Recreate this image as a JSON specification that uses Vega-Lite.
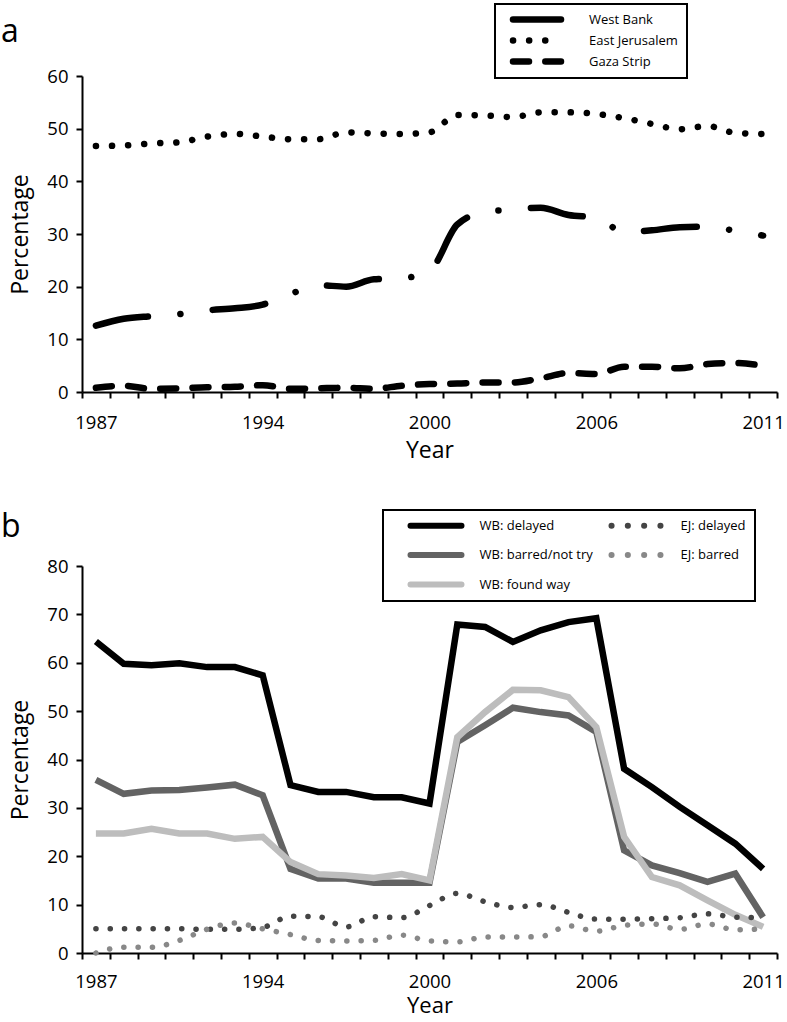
{
  "$schema": "https://vega.github.io/schema/vega-lite/v6.json",
  "padding": {"left": 1, "top": 3, "right": 5, "bottom": 0},
  "background": "white",
  "config": {
    "font": "Open Sans",
    "view": {"stroke": null},
    "axis": {"domainColor": "black", "domainWidth": 2, "tickColor": "black", "tickWidth": 2, "tickSize": 6, "labelFontSize": 18.5, "labelColor": "black", "titleFontSize": 23, "titleFontWeight": "normal", "titleColor": "black", "grid": false},
    "legend": {"labelFontSize": 13, "labelColor": "black", "strokeColor": "black", "strokeWidth": 2, "symbolType": "stroke"},
    "title": {"fontSize": 32, "fontWeight": "normal", "color": "black", "anchor": "start", "frame": "group"}
  },
  "datasets": {
    "a": [
      {"t":0,"region":"West Bank","value":12.6},{"t":1,"region":"West Bank","value":13.9},{"t":2,"region":"West Bank","value":14.4},{"t":3,"region":"West Bank","value":14.8},{"t":4,"region":"West Bank","value":15.5},{"t":5,"region":"West Bank","value":15.9},{"t":6,"region":"West Bank","value":16.6},{"t":7,"region":"West Bank","value":18.6},{"t":8,"region":"West Bank","value":20.3},{"t":9,"region":"West Bank","value":20.0},{"t":10,"region":"West Bank","value":21.4},{"t":11,"region":"West Bank","value":21.6},{"t":12,"region":"West Bank","value":23.0},{"t":13,"region":"West Bank","value":31.8},{"t":14,"region":"West Bank","value":34.2},{"t":15,"region":"West Bank","value":34.6},{"t":16,"region":"West Bank","value":35.0},{"t":17,"region":"West Bank","value":33.6},{"t":18,"region":"West Bank","value":33.1},{"t":19,"region":"West Bank","value":30.4},{"t":20,"region":"West Bank","value":30.7},{"t":21,"region":"West Bank","value":31.3},{"t":22,"region":"West Bank","value":31.4},{"t":23,"region":"West Bank","value":30.6},{"t":24,"region":"West Bank","value":29.7},
      {"t":0,"region":"East Jerusalem","value":46.7},{"t":1,"region":"East Jerusalem","value":46.8},{"t":2,"region":"East Jerusalem","value":47.2},{"t":3,"region":"East Jerusalem","value":47.4},{"t":4,"region":"East Jerusalem","value":48.5},{"t":5,"region":"East Jerusalem","value":49.0},{"t":6,"region":"East Jerusalem","value":48.5},{"t":7,"region":"East Jerusalem","value":48.0},{"t":8,"region":"East Jerusalem","value":48.0},{"t":9,"region":"East Jerusalem","value":49.3},{"t":10,"region":"East Jerusalem","value":49.1},{"t":11,"region":"East Jerusalem","value":49.0},{"t":12,"region":"East Jerusalem","value":49.3},{"t":13,"region":"East Jerusalem","value":52.6},{"t":14,"region":"East Jerusalem","value":52.5},{"t":15,"region":"East Jerusalem","value":52.2},{"t":16,"region":"East Jerusalem","value":53.1},{"t":17,"region":"East Jerusalem","value":53.1},{"t":18,"region":"East Jerusalem","value":52.8},{"t":19,"region":"East Jerusalem","value":52.0},{"t":20,"region":"East Jerusalem","value":50.9},{"t":21,"region":"East Jerusalem","value":49.9},{"t":22,"region":"East Jerusalem","value":50.5},{"t":23,"region":"East Jerusalem","value":49.2},{"t":24,"region":"East Jerusalem","value":49.0},
      {"t":0,"region":"Gaza Strip","value":0.8},{"t":1,"region":"Gaza Strip","value":1.2},{"t":2,"region":"Gaza Strip","value":0.6},{"t":3,"region":"Gaza Strip","value":0.7},{"t":4,"region":"Gaza Strip","value":0.9},{"t":5,"region":"Gaza Strip","value":1.0},{"t":6,"region":"Gaza Strip","value":1.3},{"t":7,"region":"Gaza Strip","value":0.6},{"t":8,"region":"Gaza Strip","value":0.7},{"t":9,"region":"Gaza Strip","value":0.8},{"t":10,"region":"Gaza Strip","value":0.6},{"t":11,"region":"Gaza Strip","value":1.2},{"t":12,"region":"Gaza Strip","value":1.5},{"t":13,"region":"Gaza Strip","value":1.6},{"t":14,"region":"Gaza Strip","value":1.8},{"t":15,"region":"Gaza Strip","value":1.8},{"t":16,"region":"Gaza Strip","value":2.6},{"t":17,"region":"Gaza Strip","value":3.6},{"t":18,"region":"Gaza Strip","value":3.4},{"t":19,"region":"Gaza Strip","value":4.8},{"t":20,"region":"Gaza Strip","value":4.8},{"t":21,"region":"Gaza Strip","value":4.5},{"t":22,"region":"Gaza Strip","value":5.3},{"t":23,"region":"Gaza Strip","value":5.5},{"t":24,"region":"Gaza Strip","value":5.0}
    ],
    "b": [
      {"t":0,"series":"WB: delayed","value":64.4},{"t":1,"series":"WB: delayed","value":59.8},{"t":2,"series":"WB: delayed","value":59.5},{"t":3,"series":"WB: delayed","value":59.9},{"t":4,"series":"WB: delayed","value":59.1},{"t":5,"series":"WB: delayed","value":59.1},{"t":6,"series":"WB: delayed","value":57.4},{"t":7,"series":"WB: delayed","value":34.7},{"t":8,"series":"WB: delayed","value":33.3},{"t":9,"series":"WB: delayed","value":33.3},{"t":10,"series":"WB: delayed","value":32.2},{"t":11,"series":"WB: delayed","value":32.2},{"t":12,"series":"WB: delayed","value":30.9},{"t":13,"series":"WB: delayed","value":67.9},{"t":14,"series":"WB: delayed","value":67.4},{"t":15,"series":"WB: delayed","value":64.3},{"t":16,"series":"WB: delayed","value":66.7},{"t":17,"series":"WB: delayed","value":68.4},{"t":18,"series":"WB: delayed","value":69.2},{"t":19,"series":"WB: delayed","value":38.1},{"t":20,"series":"WB: delayed","value":34.3},{"t":21,"series":"WB: delayed","value":30.2},{"t":22,"series":"WB: delayed","value":26.4},{"t":23,"series":"WB: delayed","value":22.6},{"t":24,"series":"WB: delayed","value":17.4},
      {"t":0,"series":"WB: barred/not try","value":35.8},{"t":1,"series":"WB: barred/not try","value":32.9},{"t":2,"series":"WB: barred/not try","value":33.6},{"t":3,"series":"WB: barred/not try","value":33.7},{"t":4,"series":"WB: barred/not try","value":34.2},{"t":5,"series":"WB: barred/not try","value":34.8},{"t":6,"series":"WB: barred/not try","value":32.6},{"t":7,"series":"WB: barred/not try","value":17.4},{"t":8,"series":"WB: barred/not try","value":15.4},{"t":9,"series":"WB: barred/not try","value":15.4},{"t":10,"series":"WB: barred/not try","value":14.5},{"t":11,"series":"WB: barred/not try","value":14.5},{"t":12,"series":"WB: barred/not try","value":14.5},{"t":13,"series":"WB: barred/not try","value":43.6},{"t":14,"series":"WB: barred/not try","value":47.1},{"t":15,"series":"WB: barred/not try","value":50.7},{"t":16,"series":"WB: barred/not try","value":49.8},{"t":17,"series":"WB: barred/not try","value":49.1},{"t":18,"series":"WB: barred/not try","value":45.7},{"t":19,"series":"WB: barred/not try","value":21.2},{"t":20,"series":"WB: barred/not try","value":18.1},{"t":21,"series":"WB: barred/not try","value":16.5},{"t":22,"series":"WB: barred/not try","value":14.7},{"t":23,"series":"WB: barred/not try","value":16.4},{"t":24,"series":"WB: barred/not try","value":7.4},
      {"t":0,"series":"WB: found way","value":24.7},{"t":1,"series":"WB: found way","value":24.7},{"t":2,"series":"WB: found way","value":25.7},{"t":3,"series":"WB: found way","value":24.7},{"t":4,"series":"WB: found way","value":24.7},{"t":5,"series":"WB: found way","value":23.6},{"t":6,"series":"WB: found way","value":24.0},{"t":7,"series":"WB: found way","value":18.8},{"t":8,"series":"WB: found way","value":16.3},{"t":9,"series":"WB: found way","value":16.0},{"t":10,"series":"WB: found way","value":15.5},{"t":11,"series":"WB: found way","value":16.3},{"t":12,"series":"WB: found way","value":15.0},{"t":13,"series":"WB: found way","value":44.6},{"t":14,"series":"WB: found way","value":49.8},{"t":15,"series":"WB: found way","value":54.4},{"t":16,"series":"WB: found way","value":54.3},{"t":17,"series":"WB: found way","value":52.9},{"t":18,"series":"WB: found way","value":46.7},{"t":19,"series":"WB: found way","value":24.0},{"t":20,"series":"WB: found way","value":15.7},{"t":21,"series":"WB: found way","value":14.0},{"t":22,"series":"WB: found way","value":10.9},{"t":23,"series":"WB: found way","value":7.9},{"t":24,"series":"WB: found way","value":5.4},
      {"t":0,"series":"EJ: delayed","value":5.0},{"t":1,"series":"EJ: delayed","value":5.0},{"t":2,"series":"EJ: delayed","value":5.0},{"t":3,"series":"EJ: delayed","value":5.0},{"t":4,"series":"EJ: delayed","value":4.9},{"t":5,"series":"EJ: delayed","value":4.9},{"t":6,"series":"EJ: delayed","value":5.3},{"t":7,"series":"EJ: delayed","value":7.6},{"t":8,"series":"EJ: delayed","value":7.5},{"t":9,"series":"EJ: delayed","value":5.4},{"t":10,"series":"EJ: delayed","value":7.5},{"t":11,"series":"EJ: delayed","value":7.3},{"t":12,"series":"EJ: delayed","value":9.8},{"t":13,"series":"EJ: delayed","value":12.3},{"t":14,"series":"EJ: delayed","value":10.6},{"t":15,"series":"EJ: delayed","value":9.4},{"t":16,"series":"EJ: delayed","value":10.0},{"t":17,"series":"EJ: delayed","value":8.4},{"t":18,"series":"EJ: delayed","value":7.0},{"t":19,"series":"EJ: delayed","value":7.0},{"t":20,"series":"EJ: delayed","value":7.1},{"t":21,"series":"EJ: delayed","value":7.3},{"t":22,"series":"EJ: delayed","value":8.1},{"t":23,"series":"EJ: delayed","value":7.4},{"t":24,"series":"EJ: delayed","value":7.3},
      {"t":0,"series":"EJ: barred","value":0.0},{"t":1,"series":"EJ: barred","value":1.2},{"t":2,"series":"EJ: barred","value":1.2},{"t":3,"series":"EJ: barred","value":2.6},{"t":4,"series":"EJ: barred","value":4.9},{"t":5,"series":"EJ: barred","value":6.2},{"t":6,"series":"EJ: barred","value":5.0},{"t":7,"series":"EJ: barred","value":3.8},{"t":8,"series":"EJ: barred","value":2.6},{"t":9,"series":"EJ: barred","value":2.5},{"t":10,"series":"EJ: barred","value":2.6},{"t":11,"series":"EJ: barred","value":3.7},{"t":12,"series":"EJ: barred","value":2.5},{"t":13,"series":"EJ: barred","value":2.3},{"t":14,"series":"EJ: barred","value":3.3},{"t":15,"series":"EJ: barred","value":3.3},{"t":16,"series":"EJ: barred","value":3.4},{"t":17,"series":"EJ: barred","value":5.6},{"t":18,"series":"EJ: barred","value":4.5},{"t":19,"series":"EJ: barred","value":5.7},{"t":20,"series":"EJ: barred","value":6.0},{"t":21,"series":"EJ: barred","value":4.9},{"t":22,"series":"EJ: barred","value":6.0},{"t":23,"series":"EJ: barred","value":4.8},{"t":24,"series":"EJ: barred","value":5.0}
    ]
  },
  "vconcat": [
    {
      "width": 695,
      "height": 316,
      "title": {"text": "a", "dx": -81, "dy": 50},
      "data": {"name": "a"},
      "mark": {"type": "line", "interpolate": "monotone", "strokeWidth": 6.5, "strokeCap": "round", "color": "black"},
      "encoding": {
        "x": {"field": "t", "type": "ordinal", "bandPosition": 0.5, "scale": {"type": "band", "paddingInner": 0, "paddingOuter": 0},
          "axis": {"title": "Year", "tickBand": "extent", "labelAngle": 0, "labelOverlap": false, "labelPadding": 15, "titlePadding": 8,
            "labelExpr": "datum.value == 0 ? '1987' : datum.value == 6 ? '1994' : datum.value == 12 ? '2000' : datum.value == 18 ? '2006' : datum.value == 24 ? '2011' : ''"}},
        "y": {"field": "value", "type": "quantitative", "scale": {"domain": [0, 60]},
          "axis": {"title": "Percentage", "values": [0, 10, 20, 30, 40, 50, 60], "labelPadding": 8, "titlePadding": 14}},
        "strokeDash": {"field": "region", "type": "nominal",
          "scale": {"domain": ["West Bank", "East Jerusalem", "Gaza Strip"], "range": [[53, 32.5, 0.1, 32.5], [0.1, 16], [16, 16.3]]},
          "legend": {"title": null, "orient": "none", "legendX": 413, "legendY": -72, "padding": 9, "symbolSize": 16, "symbolStrokeWidth": 6.5, "symbolStrokeColor": "black", "symbolOffset": 26.5, "labelOffset": 45.5, "rowPadding": 7,
            "encode": {"symbols": {"update": {"shape": {"value": "M-12,0L12,0"}, "strokeCap": {"value": "round"}, "strokeJoin": {"value": "round"}, "stroke": {"value": "black"},
              "strokeDash": {"signal": "datum.value == 'West Bank' ? [34, 14, 0.1, 20] : datum.value == 'Gaza Strip' ? [18, 16] : [0.1, 15.7]"}}}}}}
      }
    },
    {
      "width": 695,
      "height": 387,
      "title": {"text": "b", "dx": -81, "dy": 39},
      "data": {"name": "b"},
      "encoding": {
        "x": {"field": "t", "type": "ordinal", "bandPosition": 0.5, "scale": {"type": "band", "paddingInner": 0, "paddingOuter": 0},
          "axis": {"title": "Year", "tickBand": "extent", "labelAngle": 0, "labelOverlap": false, "labelPadding": 13, "titlePadding": 5, "titleFontSize": 22,
            "labelExpr": "datum.value == 0 ? '1987' : datum.value == 6 ? '1994' : datum.value == 12 ? '2000' : datum.value == 18 ? '2006' : datum.value == 24 ? '2011' : ''"}},
        "y": {"field": "value", "type": "quantitative", "scale": {"domain": [0, 80]},
          "axis": {"title": "Percentage", "values": [0, 10, 20, 30, 40, 50, 60, 70, 80], "labelPadding": 8, "titlePadding": 14}},
        "color": {"field": "series", "type": "nominal",
          "scale": {"domain": ["WB: delayed", "WB: barred/not try", "WB: found way", "EJ: delayed", "EJ: barred"], "range": ["#000000", "#636363", "#bdbdbd", "#444444", "#888888"]},
          "legend": {"title": null, "orient": "none", "legendX": 301, "legendY": -56, "columns": 2, "columnPadding": 0, "padding": 9, "symbolSize": 16, "symbolStrokeWidth": 6, "symbolOffset": 37.5, "labelOffset": 37, "rowPadding": 15.5,
            "encode": {"symbols": {"update": {"shape": {"value": "M-12.75,0L12.75,0"}, "strokeCap": {"value": "round"}, "strokeJoin": {"value": "round"},
              "strokeDash": {"signal": "indexof(datum.value, 'EJ') == 0 ? [0.1, 16.2] : [1, 0]"}}}}}}
      },
      "layer": [
        {"transform": [{"filter": "indexof(datum.series, 'WB') == 0"}],
         "mark": {"type": "line", "strokeWidth": 6.5, "strokeJoin": "miter"}},
        {"transform": [{"filter": "indexof(datum.series, 'EJ') == 0"}],
         "mark": {"type": "line", "interpolate": "monotone", "strokeWidth": 5.5, "strokeCap": "round", "strokeDash": [0.1, 14.2]}}
      ]
    }
  ],
  "spacing": 46,
  "resolve": {"scale": {"x": "independent", "y": "independent"}, "legend": {"color": "independent", "strokeDash": "independent"}}
}
